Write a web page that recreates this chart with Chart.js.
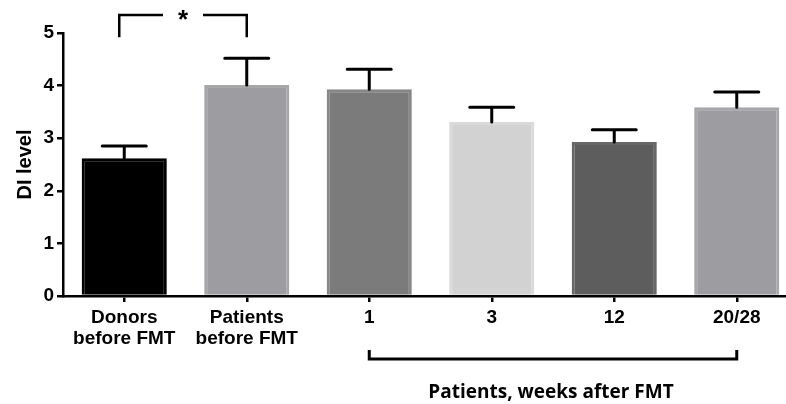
<!DOCTYPE html>
<html>
<head>
<meta charset="utf-8">
<script src="https://cdn.jsdelivr.net/npm/chart.js@4.4.0/dist/chart.umd.min.js"></script>
<style>
  html, body { margin: 0; padding: 0; background: #fff; overflow: hidden; }
  #wrap { width: 800px; height: 404px; }
</style>
</head>
<body>
<div id="wrap"><canvas id="myChart"></canvas></div>
<script>
// categories and values
var categories = [["Donors", "before FMT"], ["Patients", "before FMT"], "1", "3", "12", "20/28"];
var diLevel = [2.62, 4.01, 3.93, 3.31, 2.93, 3.59];
var diError = [0.23, 0.51, 0.38, 0.28, 0.23, 0.29];
var yTicks = [0, 1, 2, 3, 4, 5];

var barColors = ['#000000', '#9d9da1', '#7b7b7b', '#d2d2d2', '#5d5d5d', '#9d9da1'];
var barEdges = ['#000000', '#a7a7aa', '#878787', '#dadada', '#676767', '#a7a7aa'];

var ARIAL = "'Liberation Sans', Arial, sans-serif";
var tickFont = { family: ARIAL, weight: 'bold', size: 19, lineHeight: 1.1 };

// error bars, significance bracket and the "weeks after" group bracket
var extras = {
    id: 'extras',
    afterDatasetsDraw: function (chart) {
        var c = chart.ctx, x = chart.scales.x, y = chart.scales.y;
        c.save();
        c.strokeStyle = '#000';
        c.lineCap = 'round';
        c.lineWidth = 3;
        for (var i = 0; i < diLevel.length; i++) {
            var px = x.getPixelForValue(i);
            var y0 = y.getPixelForValue(diLevel[i]);
            var y1 = y.getPixelForValue(diLevel[i] + diError[i]);
            c.beginPath();
            c.moveTo(px, y0); c.lineTo(px, y1);
            c.moveTo(px - 22, y1); c.lineTo(px + 22, y1);
            c.stroke();
        }

        // * bracket between donors and patients
        var a = x.getPixelForValue(0) - 5, b = x.getPixelForValue(1);
        var top = y.getPixelForValue(5.34), leg = y.getPixelForValue(4.92);
        var mid = (a + b) / 2;
        c.lineWidth = 2.5;
        c.lineCap = 'butt';
        c.beginPath();
        c.moveTo(a, leg); c.lineTo(a, top); c.lineTo(mid - 20, top);
        c.moveTo(mid + 20, top); c.lineTo(b, top); c.lineTo(b, leg);
        c.stroke();
        c.fillStyle = '#000';
        c.font = "bold 26px " + ARIAL;
        c.textAlign = 'center';
        c.textBaseline = 'middle';
        c.fillText('*', mid, top + 6);

        // bracket under weeks 1 .. 20/28
        var l = x.getPixelForValue(2), r = x.getPixelForValue(5);
        var by = chart.chartArea.bottom + 63;
        c.lineWidth = 3;
        c.beginPath();
        c.moveTo(l, by - 9); c.lineTo(l, by); c.lineTo(r, by); c.lineTo(r, by - 9);
        c.stroke();
        c.font = "bold 19px 'Open Sans', Lato, sans-serif";
        c.fillText('Patients, weeks after FMT', (l + r) / 2 - 2, by + 34);
        c.restore();
    }
};

var ctx = document.getElementById('myChart').getContext('2d');
var chart = new Chart(ctx, {
    type: 'bar',
    data: {
        labels: categories,
        datasets: [{
            label: 'DI level',
            data: diLevel,
            backgroundColor: barColors,
            borderColor: barEdges,
            borderWidth: 3,
            categoryPercentage: 1,
            barPercentage: 0.695
        }]
    },
    options: {
        responsive: true,
        maintainAspectRatio: false,
        animation: false,
        layout: { padding: { top: 33, right: 2, left: 0, bottom: 0 } },
        plugins: { legend: { display: false }, tooltip: { enabled: false } },
        scales: {
            x: {
                grid: { display: true, offset: false, drawOnChartArea: false, drawTicks: true, tickLength: 6, color: '#000', lineWidth: 2.5 },
                border: { display: true, color: '#000', width: 2.5 },
                ticks: { color: '#000', font: tickFont, padding: 5, maxRotation: 0, autoSkip: false },
                afterFit: function (s) { s.height = 108; }
            },
            y: {
                min: 0,
                max: 5,
                afterBuildTicks: function (s) { s.ticks = yTicks.map(function (v) { return { value: v }; }); },
                grid: { display: true, drawOnChartArea: false, drawTicks: true, tickLength: 6, color: '#000', lineWidth: 2.5 },
                border: { display: true, color: '#000', width: 2.5 },
                ticks: { color: '#000', font: { family: ARIAL, weight: 'bold', size: 19 }, padding: 3 },
                title: { display: true, text: 'DI level', color: '#000', font: { family: ARIAL, weight: 'bold', size: 20 }, padding: { top: 13, bottom: 0 } },
                afterFit: function (s) { s.width = 63; }
            }
        }
    },
    plugins: [extras]
});
</script>
</body>
</html>
